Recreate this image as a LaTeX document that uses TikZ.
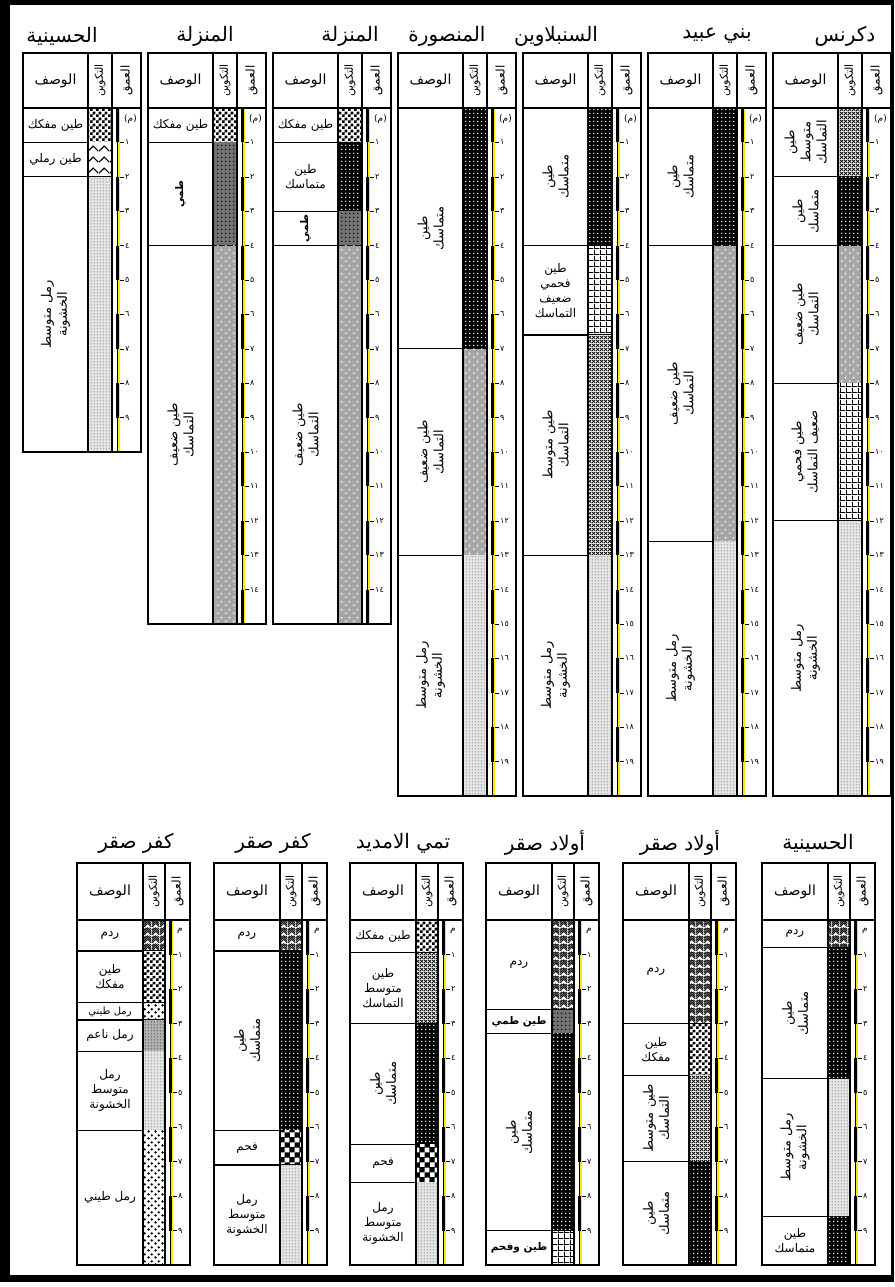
\documentclass[tikz,border=0pt]{standalone}
\usepackage{fontspec}
\usetikzlibrary{patterns}
\newfontfamily\arabicfont[Script=Arabic]{DejaVu Sans}
\newfontfamily\numfont{DejaVu Sans}
\TeXXeTstate=1

\newcommand{\ar}[1]{\beginR #1\endR}
\newcommand{\ardigit}[1]{\ifcase\numexpr#1\relax ٠\or ١\or ٢\or ٣\or ٤\or ٥\or ٦\or ٧\or ٨\or ٩\fi}
\newcommand{\arnum}[1]{\ifnum#1>9 ١\ardigit{#1-10}\else\ardigit{#1}\fi}

% Schraffuren
\pgfdeclarepatternformonly{densedots}{\pgfqpoint{0pt}{0pt}}{\pgfqpoint{4pt}{4pt}}{\pgfqpoint{4pt}{4pt}}{%
  \pgfpathcircle{\pgfqpoint{2pt}{2pt}}{0.9pt}\pgfusepath{fill}}
\pgfdeclarepatternformonly{weakdots}{\pgfqpoint{0pt}{0pt}}{\pgfqpoint{8pt}{8pt}}{\pgfqpoint{8pt}{8pt}}{%
  \pgfpathcircle{\pgfqpoint{2pt}{2pt}}{1pt}\pgfpathcircle{\pgfqpoint{6pt}{6pt}}{1pt}\pgfusepath{fill}}
\pgfdeclarepatternformonly{sanddots}{\pgfqpoint{0pt}{0pt}}{\pgfqpoint{3pt}{3pt}}{\pgfqpoint{3pt}{3pt}}{%
  \pgfpathcircle{\pgfqpoint{1.5pt}{1.5pt}}{0.65pt}\pgfusepath{fill}}
\pgfdeclarepatternformonly{xhatch}{\pgfqpoint{0pt}{0pt}}{\pgfqpoint{4pt}{4pt}}{\pgfqpoint{4pt}{4pt}}{%
  \pgfsetlinewidth{0.9pt}
  \pgfpathmoveto{\pgfqpoint{0pt}{0pt}}\pgfpathlineto{\pgfqpoint{4pt}{4pt}}
  \pgfpathmoveto{\pgfqpoint{0pt}{4pt}}\pgfpathlineto{\pgfqpoint{4pt}{0pt}}\pgfusepath{stroke}}
\pgfdeclarepatternformonly{checks}{\pgfqpoint{0pt}{0pt}}{\pgfqpoint{6pt}{6pt}}{\pgfqpoint{6pt}{6pt}}{%
  \pgfpathrectangle{\pgfqpoint{0pt}{0pt}}{\pgfqpoint{3pt}{3pt}}
  \pgfpathrectangle{\pgfqpoint{3pt}{3pt}}{\pgfqpoint{3pt}{3pt}}\pgfusepath{fill}}
\pgfdeclarepatternformonly{coalgrid}{\pgfqpoint{0pt}{0pt}}{\pgfqpoint{6pt}{6pt}}{\pgfqpoint{6pt}{6pt}}{%
  \pgfsetlinewidth{1pt}
  \pgfpathmoveto{\pgfqpoint{0pt}{0.5pt}}\pgfpathlineto{\pgfqpoint{6pt}{0.5pt}}
  \pgfpathmoveto{\pgfqpoint{0.5pt}{0pt}}\pgfpathlineto{\pgfqpoint{0.5pt}{6pt}}\pgfusepath{stroke}}
\pgfdeclarepatternformonly{zigzag}{\pgfqpoint{0pt}{0pt}}{\pgfqpoint{11pt}{11pt}}{\pgfqpoint{11pt}{11pt}}{%
  \pgfsetlinewidth{1.2pt}
  \pgfpathmoveto{\pgfqpoint{0pt}{3pt}}\pgfpathlineto{\pgfqpoint{5.5pt}{8.5pt}}\pgfpathlineto{\pgfqpoint{11pt}{3pt}}\pgfusepath{stroke}}
\pgfdeclarepatternformonly{weave}{\pgfqpoint{0pt}{0pt}}{\pgfqpoint{8pt}{8pt}}{\pgfqpoint{8pt}{8pt}}{%
  \pgfsetlinewidth{0.8pt}
  \pgfpathmoveto{\pgfqpoint{0pt}{0pt}}\pgfpathlineto{\pgfqpoint{4pt}{4pt}}\pgfpathlineto{\pgfqpoint{8pt}{0pt}}
  \pgfpathmoveto{\pgfqpoint{0pt}{2pt}}\pgfpathlineto{\pgfqpoint{4pt}{6pt}}\pgfpathlineto{\pgfqpoint{8pt}{2pt}}
  \pgfpathmoveto{\pgfqpoint{0pt}{4pt}}\pgfpathlineto{\pgfqpoint{4pt}{8pt}}\pgfpathlineto{\pgfqpoint{8pt}{4pt}}
  \pgfpathmoveto{\pgfqpoint{0pt}{6pt}}\pgfpathlineto{\pgfqpoint{2pt}{8pt}}
  \pgfpathmoveto{\pgfqpoint{6pt}{8pt}}\pgfpathlineto{\pgfqpoint{8pt}{6pt}}\pgfusepath{stroke}}
\pgfdeclarepatternformonly{bigchecks}{\pgfqpoint{0pt}{0pt}}{\pgfqpoint{10pt}{10pt}}{\pgfqpoint{10pt}{10pt}}{%
  \pgfpathrectangle{\pgfqpoint{0pt}{0pt}}{\pgfqpoint{5pt}{5pt}}
  \pgfpathrectangle{\pgfqpoint{5pt}{5pt}}{\pgfqpoint{5pt}{5pt}}\pgfusepath{fill}}
\pgfdeclarepatternformonly{bigdots}{\pgfqpoint{0pt}{0pt}}{\pgfqpoint{7pt}{7pt}}{\pgfqpoint{7pt}{7pt}}{%
  \pgfpathcircle{\pgfqpoint{1.75pt}{1.75pt}}{1.5pt}\pgfpathcircle{\pgfqpoint{5.25pt}{5.25pt}}{1.5pt}\pgfusepath{fill}}

% eine Schicht: Name, x0, von, bis, Schraffur, Knotenstil, Text
\newcommand{\layer}[7]{%
  \pgfmathsetmacro{\ya}{\yhead+\mpx*#3}
  \pgfmathsetmacro{\yb}{\yhead+\mpx*#4}
  \fill[#5] (#2+\wdesc,\ya) rectangle (#2+\wdesc+\wform,\yb);
  \draw[line width=1.2pt] (#2,\yb) -- (#2+\wdesc+\wform,\yb);
  \node[#6] (#1) at ({#2+\wdesc/2},{(\ya+\yb)/2}) {#7};
}
% Rahmen, Kopf und Tiefenskala: Name, x0, Tiefe, x Titel, Titel
\newcommand{\welllog}[5]{%
  \pgfmathsetmacro{\xb}{#2+\wdesc}
  \pgfmathsetmacro{\xc}{\xb+\wform}
  \pgfmathsetmacro{\xd}{\xc+\wdep}
  \pgfmathsetmacro{\ybot}{\yhead+\mpx*#3}
  \pgfmathtruncatemacro{\nlast}{#3-1}
  \fill[yellow!90!orange] (\xc+5,\yhead) rectangle (\xc+8,\ybot);
  \foreach \m in {0,2,...,\nlast}
    \fill (\xc+4,{\yhead+\mpx*\m}) rectangle (\xc+6.5,{\yhead+\mpx*(\m+1)});
  \draw (\xc+5,\yhead) -- (\xc+5,\ybot);
  \foreach \m in {1,...,\nlast}
    \draw (\xc+8,{\yhead+\mpx*\m}) -- ++(4,0) node[num] (#1d\m) {\arnum{\m}};
  \node[num, font=\arabicfont\fontsize{9}{9}\selectfont] (#1u) at (\xc+11,\yhead+11) {\munit};
  \draw[line width=1.6pt] (#2,\ytop) rectangle (\xd,\ybot);
  \draw[line width=1.6pt] (#2,\yhead) -- (\xd,\yhead);
  \draw[line width=1.2pt] (\xb,\ytop) -- (\xb,\ybot) (\xc,\ytop) -- (\xc,\ybot);
  \node[hdr] (#1h1) at ({(#2+\xb)/2},{(\ytop+\yhead)/2}) {\ar{الوصف}};
  \node[hdr, rotate=90, font=\arabicfont\fontsize{11}{11}\selectfont] (#1h2) at ({(\xb+\xc)/2},{(\ytop+\yhead)/2}) {\ar{التكوين}};
  \node[hdr, rotate=90, font=\arabicfont\fontsize{12}{12}\selectfont] (#1h3) at ({(\xc+\xd)/2},{(\ytop+\yhead)/2}) {\ar{العمق}};
  \node[ttl] (#1t) at (#4,\ytop-\tdy) {#5};
}

\begin{document}
\begin{tikzpicture}[x=1pt, y=-1pt,
  clayDense/.style={preaction={fill=black}, pattern=densedots, pattern color=white},
  clayWeak/.style={preaction={fill=gray!70}, pattern=weakdots, pattern color=white},
  clayMed/.style={preaction={fill=white}, pattern=xhatch, pattern color=black},
  sandMed/.style={preaction={fill=gray!20}, pattern=sanddots, pattern color=black!70},
  clayLoose/.style={preaction={fill=white}, pattern=checks, pattern color=black},
  clayCoaly/.style={preaction={fill=white}, pattern=coalgrid, pattern color=black},
  claySandy/.style={preaction={fill=white}, pattern=zigzag, pattern color=black},
  fillMat/.style={preaction={fill=white}, pattern=weave, pattern color=black},
  coalBed/.style={preaction={fill=black}, pattern=bigchecks, pattern color=white},
  sandFine/.style={preaction={fill=gray!60}, pattern=sanddots, pattern color=black},
  sandClayey/.style={preaction={fill=white}, pattern=bigdots, pattern color=black},
  siltBed/.style={preaction={fill=black!55}, pattern=densedots, pattern color=black},
  lbl/.style={font=\arabicfont\fontsize{12}{15}\selectfont, align=center, inner sep=1pt},
  vlbl/.style={lbl, rotate=90, font=\arabicfont\fontsize{13}{16}\selectfont},
  blbl/.style={lbl, font=\arabicfont\bfseries\fontsize{10.5}{12}\selectfont},
  slbl/.style={lbl, font=\arabicfont\fontsize{10}{10}\selectfont},
  hdr/.style={font=\arabicfont\fontsize{14}{14}\selectfont, inner sep=0pt},
  ttl/.style={font=\arabicfont\fontsize{20}{22}\selectfont},
  num/.style={font=\numfont\fontsize{8}{8}\selectfont, inner sep=1pt, anchor=west}]
\useasboundingbox (0,0) rectangle (894,1287);
\fill (0,0) rectangle (894,5);
\fill (0,0) rectangle (10,1282);
\fill (0,1275) rectangle (894,1282);
\fill (891,0) rectangle (894,1282);

% obere Reihe
\def\ytop{53}\def\yhead{108}\def\mpx{34.4}\def\wdesc{65}\def\wform{24}\def\wdep{29}\def\munit{(م)}\def\tdy{17}
\layer{haA}{23}{0}{1}{clayLoose}{lbl}{\ar{طين مفكك}}
\layer{haB}{23}{1}{2}{claySandy}{lbl}{\ar{طين رملي}}
\layer{haC}{23}{2}{10}{sandMed}{vlbl}{\ar{رمل متوسط}\\\ar{الخشونة}}
\welllog{ha}{23}{10}{62}{\ar{الحسينية}}

\layer{maA}{148}{0}{1}{clayLoose}{lbl}{\ar{طين مفكك}}
\layer{maB}{148}{1}{4}{siltBed}{blbl, rotate=90}{\ar{طمي}}
\layer{maC}{148}{4}{15}{clayWeak}{vlbl}{\ar{طين ضعيف}\\\ar{التماسك}}
\welllog{ma}{148}{15}{205}{\ar{المنزلة}}

\layer{mbA}{273}{0}{1}{clayLoose}{lbl}{\ar{طين مفكك}}
\layer{mbB}{273}{1}{3}{clayDense}{lbl}{\ar{طين}\\\ar{متماسك}}
\layer{mbC}{273}{3}{4}{siltBed}{blbl, rotate=90}{\ar{طمي}}
\layer{mbD}{273}{4}{15}{clayWeak}{vlbl}{\ar{طين ضعيف}\\\ar{التماسك}}
\welllog{mb}{273}{15}{350}{\ar{المنزلة}}

\layer{mnA}{398}{0}{7}{clayDense}{vlbl}{\ar{طين}\\\ar{متماسك}}
\layer{mnB}{398}{7}{13}{clayWeak}{vlbl}{\ar{طين ضعيف}\\\ar{التماسك}}
\layer{mnC}{398}{13}{20}{sandMed}{vlbl}{\ar{رمل متوسط}\\\ar{الخشونة}}
\welllog{mn}{398}{20}{447}{\ar{المنصورة}}

\layer{snA}{523}{0}{4}{clayDense}{vlbl}{\ar{طين}\\\ar{متماسك}}
\layer{snB}{523}{4}{6.6}{clayCoaly}{lbl}{\ar{طين}\\\ar{فحمي}\\\ar{ضعيف}\\\ar{التماسك}}
\layer{snC}{523}{6.6}{13}{clayMed}{vlbl}{\ar{طين متوسط}\\\ar{التماسك}}
\layer{snD}{523}{13}{20}{sandMed}{vlbl}{\ar{رمل متوسط}\\\ar{الخشونة}}
\welllog{sn}{523}{20}{556}{\ar{السنبلاوين}}

\layer{baA}{648}{0}{4}{clayDense}{vlbl}{\ar{طين}\\\ar{متماسك}}
\layer{baB}{648}{4}{12.6}{clayWeak}{vlbl}{\ar{طين ضعيف}\\\ar{التماسك}}
\layer{baC}{648}{12.6}{20}{sandMed}{vlbl}{\ar{رمل متوسط}\\\ar{الخشونة}}
\welllog{ba}{648}{20}{717}{\ar{بني عبيد}}

\layer{dkA}{773}{0}{2}{clayMed}{vlbl}{\ar{طين}\\\ar{متوسط}\\\ar{التماسك}}
\layer{dkB}{773}{2}{4}{clayDense}{vlbl}{\ar{طين}\\\ar{متماسك}}
\layer{dkC}{773}{4}{8}{clayWeak}{vlbl}{\ar{طين ضعيف}\\\ar{التماسك}}
\layer{dkD}{773}{8}{12}{clayCoaly}{vlbl}{\ar{طين فحمي}\\\ar{ضعيف التماسك}}
\layer{dkE}{773}{12}{20}{sandMed}{vlbl}{\ar{رمل متوسط}\\\ar{الخشونة}}
\welllog{dk}{773}{20}{845}{\ar{دكرنس}}

% untere Reihe
\def\ytop{863}\def\yhead{920}\def\mpx{34.5}\def\wdesc{66}\def\wform{22}\def\wdep{25}\def\munit{م}\def\tdy{20}
\layer{kaA}{77}{0}{0.9}{fillMat}{lbl}{\ar{ردم}}
\layer{kaB}{77}{0.9}{2.4}{clayLoose}{lbl}{\ar{طين}\\\ar{مفكك}}
\layer{kaC}{77}{2.4}{2.9}{sandClayey}{slbl}{\ar{رمل طيني}}
\layer{kaD}{77}{2.9}{3.8}{sandFine}{lbl}{\ar{رمل ناعم}}
\layer{kaE}{77}{3.8}{6.1}{sandMed}{lbl}{\ar{رمل}\\\ar{متوسط}\\\ar{الخشونة}}
\layer{kaF}{77}{6.1}{10}{sandClayey}{lbl}{\ar{رمل طيني}}
\welllog{ka}{77}{10}{136}{\ar{كفر صقر}}

\layer{kbA}{214}{0}{0.9}{fillMat}{lbl}{\ar{ردم}}
\layer{kbB}{214}{0.9}{6.1}{clayDense}{vlbl}{\ar{طين}\\\ar{متماسك}}
\layer{kbC}{214}{6.1}{7.1}{coalBed}{lbl}{\ar{فحم}}
\layer{kbD}{214}{7.1}{10}{sandMed}{lbl}{\ar{رمل}\\\ar{متوسط}\\\ar{الخشونة}}
\welllog{kb}{214}{10}{273}{\ar{كفر صقر}}

\layer{tmA}{350}{0}{0.95}{clayLoose}{lbl}{\ar{طين مفكك}}
\layer{tmB}{350}{0.95}{3}{clayMed}{lbl}{\ar{طين}\\\ar{متوسط}\\\ar{التماسك}}
\layer{tmC}{350}{3}{6.5}{clayDense}{vlbl}{\ar{طين}\\\ar{متماسك}}
\layer{tmD}{350}{6.5}{7.6}{coalBed}{lbl}{\ar{فحم}}
\layer{tmE}{350}{7.6}{10}{sandMed}{lbl}{\ar{رمل}\\\ar{متوسط}\\\ar{الخشونة}}
\welllog{tm}{350}{10}{403}{\ar{تمي الامديد}}

\layer{oaA}{486}{0}{2.6}{fillMat}{lbl}{\ar{ردم}}
\layer{oaB}{486}{2.6}{3.3}{siltBed}{blbl}{\ar{طين طمي}}
\layer{oaC}{486}{3.3}{9}{clayDense}{vlbl}{\ar{طين}\\\ar{متماسك}}
\layer{oaD}{486}{9}{10}{clayCoaly}{blbl}{\ar{طين وفحم}}
\welllog{oa}{486}{10}{545}{\ar{أولاد صقر}}

\layer{obA}{623}{0}{3}{fillMat}{lbl}{\ar{ردم}}
\layer{obB}{623}{3}{4.5}{clayLoose}{lbl}{\ar{طين}\\\ar{مفكك}}
\layer{obC}{623}{4.5}{7}{clayMed}{vlbl}{\ar{طين متوسط}\\\ar{التماسك}}
\layer{obD}{623}{7}{10}{clayDense}{vlbl}{\ar{طين}\\\ar{متماسك}}
\welllog{ob}{623}{10}{680}{\ar{أولاد صقر}}

\layer{hbA}{762}{0}{0.8}{fillMat}{lbl}{\ar{ردم}}
\layer{hbB}{762}{0.8}{4.6}{clayDense}{vlbl}{\ar{طين}\\\ar{متماسك}}
\layer{hbC}{762}{4.6}{8.6}{sandMed}{vlbl}{\ar{رمل متوسط}\\\ar{الخشونة}}
\layer{hbD}{762}{8.6}{10}{clayDense}{lbl}{\ar{طين}\\\ar{متماسك}}
\welllog{hb}{762}{10}{818}{\ar{الحسينية}}
\end{tikzpicture}
\end{document}
